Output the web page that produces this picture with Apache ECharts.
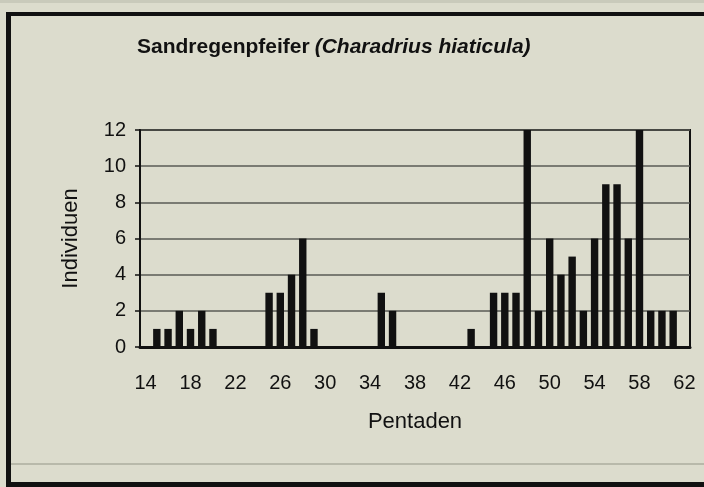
<!DOCTYPE html>
<html>
<head>
<meta charset="utf-8">
<script src="https://cdn.jsdelivr.net/npm/echarts@6/dist/echarts.min.js"></script>
<style>
  html, body { margin: 0; padding: 0; background: #dcdccd; }
  #main { width: 704px; height: 487px; }
</style>
</head>
<body>
<div id="main"></div>
<script>
// Pentaden 14..62
const pentads = [];
for (let p = 14; p <= 62; p++) pentads.push(String(p));

// Individuen je Pentade (48 und 58 gehen über den Rand)
const counts = [
  0, 1, 1, 2, 1, 2, 1,          // 14-20
  0, 0, 0, 0,                   // 21-24
  3, 3, 4, 6, 1,                // 25-29
  0, 0, 0, 0, 0,                // 30-34
  3, 2,                         // 35-36
  0, 0, 0, 0, 0, 0,             // 37-42
  1, 0,                         // 43-44
  3, 3, 3, 12, 2, 6, 4, 5, 2,   // 45-53
  6, 9, 9, 6, 12, 2, 2, 2,      // 54-61
  0                             // 62
];

const yTicks = [0, 2, 4, 6, 8, 10, 12];

const font = 'Liberation Sans, Arial, sans-serif';
const chart = echarts.init(document.getElementById('main'));

const option = {
  backgroundColor: '#dcdccd',
  animation: false,
  title: {
    text: '{b|Sandregenpfeifer} {i|(Charadrius hiaticula)}',
    left: 132,
    top: 32,
    textStyle: {
      rich: {
        b: { fontFamily: font, fontSize: 21, fontWeight: 'bold', color: '#111' },
        i: { fontFamily: font, fontSize: 21, fontStyle: 'italic', color: '#111' }
      }
    }
  },
  grid: {
    left: 140, right: 14, top: 130, bottom: 140,
    show: true,
    borderColor: '#111',
    borderWidth: 2
  },
  xAxis: {
    type: 'category',
    data: pentads,
    name: 'Pentaden',
    nameLocation: 'middle',
    nameGap: 64,
    nameTextStyle: { fontFamily: font, fontSize: 22, color: '#111' },
    axisLine: { lineStyle: { color: '#111', width: 3 } },
    axisTick: { length: 8, lineStyle: { color: '#111', width: 3 } },
    axisLabel: {
      interval: 3,
      fontFamily: font, fontSize: 20, color: '#111', margin: 26
    }
  },
  yAxis: {
    type: 'value',
    min: 0, max: 12, interval: 2,
    name: 'Individuen',
    nameLocation: 'middle',
    nameGap: 58,
    nameTextStyle: { fontFamily: font, fontSize: 22, color: '#111' },
    axisLine: { show: true, lineStyle: { color: '#111', width: 2 } },
    axisTick: { show: true, length: 5, lineStyle: { color: '#111', width: 1.5 } },
    axisLabel: {
      fontFamily: font, fontSize: 20, color: '#111', margin: 14,
      formatter: v => (yTicks.indexOf(v) >= 0 ? String(v) : '')
    },
    splitLine: { lineStyle: { color: '#5a5b54', width: 1.5 } }
  },
  series: [{
    type: 'bar',
    data: counts,
    barWidth: '66%',
    itemStyle: { color: '#111' },
    clip: true
  }],
  graphic: [
    // Rahmen der Abbildung
    { type: 'rect', shape: { x: 0, y: 0, width: 704, height: 3 }, style: { fill: '#c9cabb' } },
    { type: 'rect', shape: { x: 6, y: 12, width: 5, height: 475 }, style: { fill: '#111' } },
    { type: 'rect', shape: { x: 6, y: 12, width: 698, height: 4 }, style: { fill: '#111' } },
    { type: 'rect', shape: { x: 6, y: 482, width: 698, height: 5 }, style: { fill: '#111' } },
    { type: 'rect', shape: { x: 11, y: 463, width: 693, height: 2 }, style: { fill: '#b8b9aa' } }
  ]
};

chart.setOption(option);
</script>
</body>
</html>
